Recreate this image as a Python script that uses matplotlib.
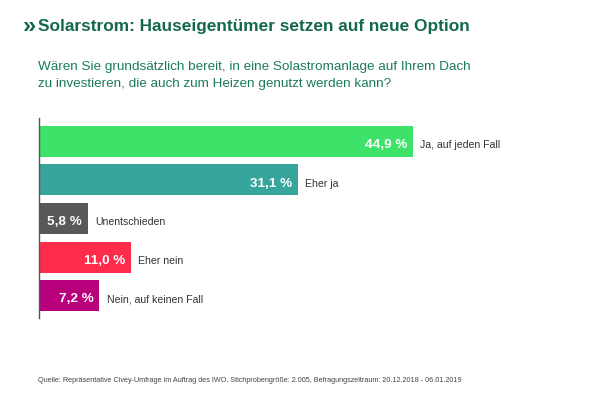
import matplotlib
matplotlib.use("Agg")
import matplotlib.pyplot as plt

categories = ["Ja, auf jeden Fall", "Eher ja", "Unentschieden", "Eher nein", "Nein, auf keinen Fall"]
values = [44.9, 31.1, 5.8, 11.0, 7.2]
value_labels = ["44,9 %", "31,1 %", "5,8 %", "11,0 %", "7,2 %"]
colors = ["#3EE268", "#37A59B", "#585858", "#FF2B4B", "#B8007C"]

title = "Solarstrom: Hauseigentümer setzen auf neue Option"
subtitle_lines = ["Wären Sie grundsätzlich bereit, in eine Solastromanlage auf Ihrem Dach",
                  "zu investieren, die auch zum Heizen genutzt werden kann?"]
source = "Quelle: Repräsentative Civey-Umfrage im Auftrag des IWO, Stichprobengröße: 2.005, Befragungszeitraum: 20.12.2018 - 06.01.2019"

plt.rcParams['font.family'] = ['Liberation Sans', 'DejaVu Sans']

W, H = 600, 400
fig = plt.figure(figsize=(W / 100, H / 100), dpi=100)
fig.patch.set_facecolor("white")

# axes in pixel geometry
ax_left, ax_right = 39.5, 539.5
ax_top, ax_bot = 118, 318
ax = fig.add_axes([ax_left / W, (H - ax_bot) / H, (ax_right - ax_left) / W, (ax_bot - ax_top) / H])
px_per_pct = 8.325
ax.set_xlim(0, (ax_right - ax_left) / px_per_pct)
ax.set_ylim(4.584, -0.610)

ypos = list(range(len(values)))
ax.barh(ypos, values, height=0.805, color=colors, edgecolor="none")
base_off = 0.175
for y, v, lab, cat in zip(ypos, values, value_labels, categories):
    ax.text(v - 0.72, y + base_off, lab, ha="right", va="baseline", color="white",
            fontsize=9.7, fontweight="bold")
    ax.text(v + 0.85, y + base_off, cat, ha="left", va="baseline", color="#333333",
            fontsize=7.6)

for s in ["top", "right", "bottom"]:
    ax.spines[s].set_visible(False)
ax.spines["left"].set_color("#555555")
ax.spines["left"].set_linewidth(1.0)
ax.set_xticks([])
ax.set_yticks([])

title_color = "#14684F"
fig.text(22.5 / W, 1 - 33 / H, "»", ha="left", va="baseline", color=title_color,
         fontsize=17, fontweight="bold")
fig.text(38 / W, 1 - 31 / H, title, ha="left", va="baseline", color=title_color,
         fontsize=12.4, fontweight="bold")
for i, line in enumerate(subtitle_lines):
    fig.text(38 / W, 1 - (70 + 17.3 * i) / H, line, ha="left", va="baseline",
             color="#1B7A5E", fontsize=9.7)
fig.text(38 / W, 1 - 381 / H, source, ha="left", va="center", color="#444444",
         fontsize=5.2)

fig.savefig("out.png", dpi=100, facecolor="white")
